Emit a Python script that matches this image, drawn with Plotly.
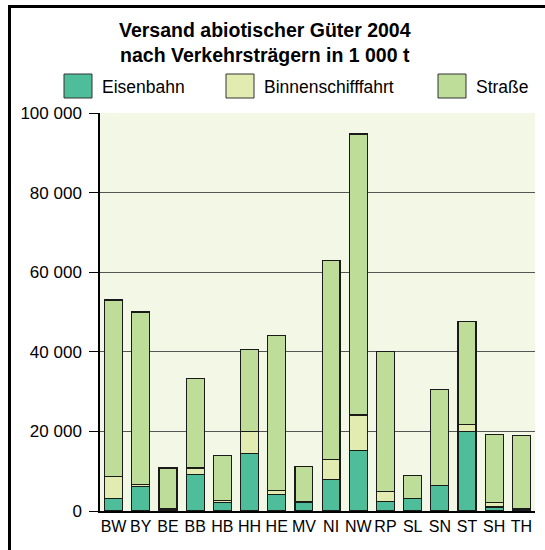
import plotly.graph_objects as go

categories = ["BW", "BY", "BE", "BB", "HB", "HH", "HE", "MV", "NI", "NW", "RP", "SL", "SN", "ST", "SH", "TH"]
series_names = ["Eisenbahn", "Binnenschifffahrt", "Straße"]
eisenbahn = [3100, 6200, 400, 9200, 2100, 14400, 4200, 2100, 8000, 15300, 2400, 3200, 6500, 20000, 1000, 500]
binnen = [5600, 500, 300, 1600, 500, 5500, 1000, 200, 4900, 8800, 2500, 0, 0, 1700, 1100, 0]
strasse = [44300, 43300, 10100, 22400, 11300, 20700, 38800, 8900, 50000, 70600, 35100, 5700, 24100, 25900, 17200, 18500]
ytick_vals = [0, 20000, 40000, 60000, 80000, 100000]
ytick_text = ["0", "20 000", "40 000", "60 000", "80 000", "100 000"]
title_text = "<b>Versand abiotischer Güter 2004<br>nach Verkehrsträgern in 1 000 t</b>"

colors = ["#4ebe9a", "#e3ecb0", "#bedd99"]
FONT = "Arial, Liberation Sans, sans-serif"

W, H = 545, 550
L, R, T, B = 100, 535, 113, 511


def px_x(x):
    return (x - L) / (R - L)


def px_y(y):
    return (B - y) / (B - T)


fig = go.Figure()
for name, vals, col in zip(series_names, [eisenbahn, binnen, strasse], colors):
    fig.add_trace(go.Bar(
        x=categories, y=vals, name=name, showlegend=False,
        marker=dict(color=col, line=dict(color="#1a1a1a", width=1.2)),
    ))

shapes = []
annotations = []
# title
annotations.append(dict(text=title_text, xref="paper", yref="paper",
                        x=px_x(265), y=px_y(17), xanchor="center", yanchor="top",
                        showarrow=False, align="center",
                        font=dict(family=FONT, size=19.5, color="black")))
# manual legend
legend_swatch_x = [64, 226, 438]
for name, col, sx in zip(series_names, colors, legend_swatch_x):
    shapes.append(dict(type="rect", xref="paper", yref="paper",
                       x0=px_x(sx), x1=px_x(sx + 28), y0=px_y(98), y1=px_y(74),
                       fillcolor=col, line=dict(color="#333333", width=1)))
    annotations.append(dict(text=name, xref="paper", yref="paper",
                            x=px_x(sx + 36), y=px_y(86.5), xanchor="left", yanchor="middle",
                            showarrow=False, font=dict(family=FONT, size=17.5, color="black")))
# frame lines (left and top)
shapes.append(dict(type="line", xref="paper", yref="paper",
                   x0=px_x(9.5), x1=px_x(9.5), y0=px_y(6.5), y1=px_y(560),
                   line=dict(color="black", width=3)))
shapes.append(dict(type="line", xref="paper", yref="paper",
                   x0=px_x(8), x1=px_x(560), y0=px_y(6.5), y1=px_y(6.5),
                   line=dict(color="black", width=3)))

fig.update_layout(
    width=W, height=H,
    margin=dict(l=L, r=W - R, t=T, b=H - B, pad=0),
    paper_bgcolor="white",
    plot_bgcolor="#f3f7e6",
    barmode="stack",
    bargap=0.34,
    font=dict(family=FONT, color="black"),
    shapes=shapes,
    annotations=annotations,
    xaxis=dict(showgrid=False, showline=True, linecolor="black", linewidth=1.5,
               ticks="", tickfont=dict(size=16, family=FONT), fixedrange=True),
    yaxis=dict(range=[0, 100000], tickvals=ytick_vals, ticktext=ytick_text,
               showgrid=True, gridcolor="#555555", gridwidth=1.3,
               showline=True, linecolor="black", linewidth=1.5,
               ticks="outside", ticklen=9, tickwidth=1.3, tickcolor="black",
               ticklabelstandoff=4,
               tickfont=dict(size=17, family=FONT), zeroline=False, fixedrange=True),
)

fig.write_html("out.html", config={"displayModeBar": False},
               post_script="document.body.style.margin='0';")
